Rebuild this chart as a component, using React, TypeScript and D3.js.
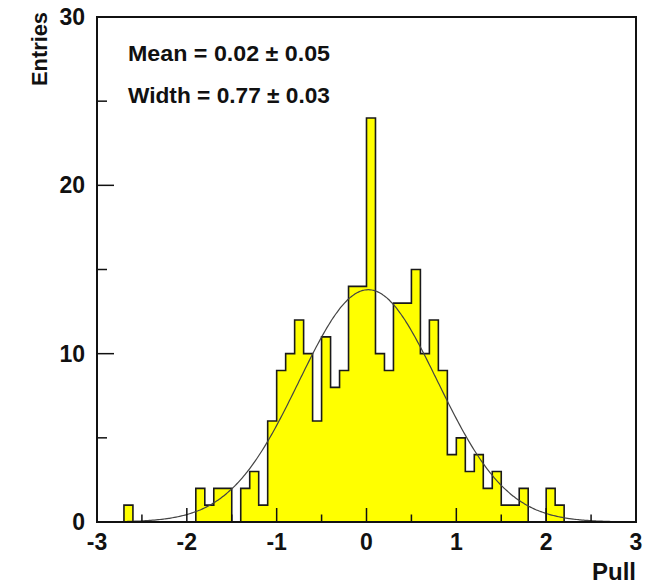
import React from "react";
import * as d3 from "d3";

// histogram of pulls, 60 bins of 0.1 from -3 to 3
const binLow = -3;
const binWidth = 0.1;
const counts = [
  0, 0, 0, 1, 0, 0, 0, 0, 0, 0,
  0, 2, 1, 2, 2, 0, 2, 3, 1, 6,
  9, 10, 12, 10, 6, 11, 8, 9, 14, 14,
  24, 10, 9, 13, 13, 15, 10, 12, 9, 4,
  5, 3, 4, 2, 3, 1, 1, 2, 0, 0,
  2, 1, 0, 0, 0, 0, 0, 0, 0, 0,
];

// gaussian fit shown on the plot
const fitMean = 0.02;
const fitWidth = 0.77;
const fitPeak = 13.8;

const xMajor = [-3, -2, -1, 0, 1, 2, 3];
const xMinor = [-2.5, -1.5, -0.5, 0.5, 1.5, 2.5];
const yMajor = [0, 10, 20, 30];
const yMinor = [5, 15, 25];
const statLines = ["Mean = 0.02 \u00b1 0.05", "Width = 0.77 \u00b1 0.03"];

const W = 651;
const H = 586;
const m = { left: 97, right: 15, top: 17, bottom: 64 };
const font = "'Liberation Sans', Arial, sans-serif";

export default function App() {
  const x = d3.scaleLinear().domain([-3, 3]).range([m.left, W - m.right]);
  const y = d3.scaleLinear().domain([0, 30]).range([H - m.bottom, m.top]);

  const pts = counts.map((c, i) => ({ v: binLow + i * binWidth, c }));
  pts.push({ v: binLow + counts.length * binWidth, c: counts[counts.length - 1] });

  const area = d3
    .area<{ v: number; c: number }>()
    .x((d) => x(d.v))
    .y0(y(0))
    .y1((d) => y(d.c))
    .curve(d3.curveStepAfter);
  const outline = d3
    .line<{ v: number; c: number }>()
    .x((d) => x(d.v))
    .y((d) => y(d.c))
    .curve(d3.curveStepAfter);

  const fx = d3.range(-3, 3.0001, 0.02);
  const fit = d3
    .line<number>()
    .x((v) => x(v))
    .y((v) => y(fitPeak * Math.exp(-0.5 * ((v - fitMean) / fitWidth) ** 2)))
    .curve(d3.curveMonotoneX);

  const x0 = x(-3);
  const y0 = y(0);

  return (
    <svg
      width={W}
      height={H}
      style={{ position: "absolute", left: 0, top: 0, background: "#fff" }}
      fontFamily={font}
      fontWeight="bold"
    >
      <path d={area(pts) ?? ""} fill="#ffff00" />
      <path d={outline(pts) ?? ""} fill="none" stroke="#1a1a1a" strokeWidth={1.6} />
      <path d={fit(fx) ?? ""} fill="none" stroke="#444" strokeWidth={1.2} />

      {xMajor.map((t) => (
        <line key={"xM" + t} x1={x(t)} x2={x(t)} y1={y0} y2={y0 - 14} stroke="#111" strokeWidth={1.5} />
      ))}
      {xMinor.map((t) => (
        <line key={"xm" + t} x1={x(t)} x2={x(t)} y1={y0} y2={y0 - 7.5} stroke="#111" strokeWidth={1.5} />
      ))}
      {yMajor.map((t) => (
        <line key={"yM" + t} x1={x0} x2={x0 + 17} y1={y(t)} y2={y(t)} stroke="#111" strokeWidth={1.5} />
      ))}
      {yMinor.map((t) => (
        <line key={"ym" + t} x1={x0} x2={x0 + 10} y1={y(t)} y2={y(t)} stroke="#111" strokeWidth={1.5} />
      ))}

      <rect
        x={m.left}
        y={m.top}
        width={W - m.left - m.right}
        height={H - m.top - m.bottom}
        fill="none"
        stroke="#111"
        strokeWidth={2}
      />

      {xMajor.map((t) => (
        <text key={"xl" + t} x={x(t)} y={y0 + 28} textAnchor="middle" fontSize={23} fill="#111">
          {t < 0 ? "-" + Math.abs(t) : t}
        </text>
      ))}
      {yMajor.map((t) => (
        <text key={"yl" + t} x={x0 - 12} y={y(t) + 8} textAnchor="end" fontSize={23} fill="#111">
          {t}
        </text>
      ))}

      <text x={W - m.right} y={H - 6} textAnchor="end" fontSize={24} fill="#111">
        Pull
      </text>
      <text
        transform={`translate(${47},${12}) rotate(-90)`}
        textAnchor="end"
        fontSize={22}
        fill="#111"
        textLength={74}
        lengthAdjust="spacingAndGlyphs"
      >
        Entries
      </text>

      {statLines.map((s, i) => (
        <text key={s} x={128} y={61 + i * 42} fontSize={22} fill="#111" textLength={202} lengthAdjust="spacingAndGlyphs">
          {s}
        </text>
      ))}
    </svg>
  );
}
